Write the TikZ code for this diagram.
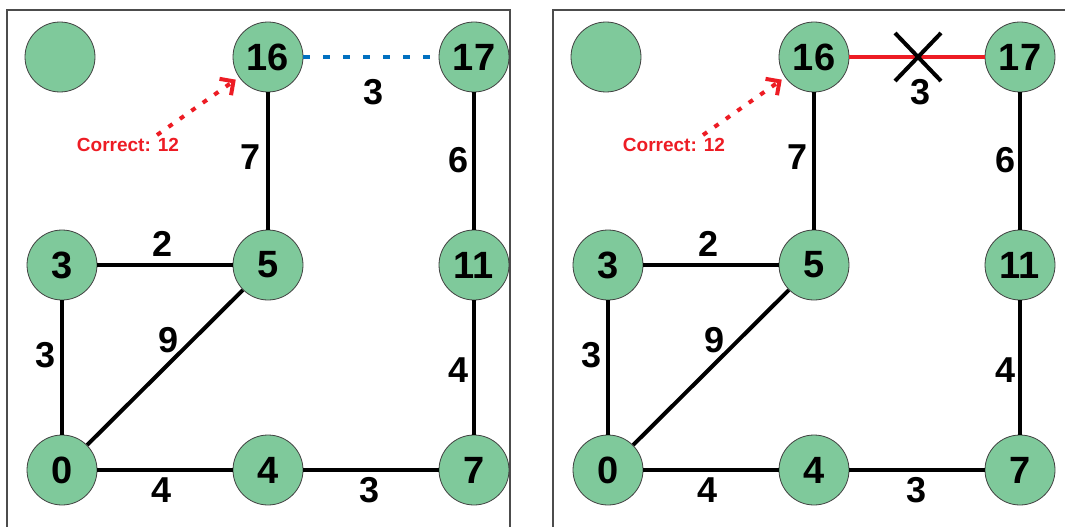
\documentclass[tikz,border=0pt]{standalone}
\usepackage{fontspec}
\setmainfont{Liberation Sans}
\usetikzlibrary{arrows.meta}

\definecolor{vgreen}{RGB}{127,201,155}
\definecolor{vblue}{RGB}{0,112,192}
\definecolor{vred}{RGB}{237,28,36}

\begin{document}
\begin{tikzpicture}[x=1pt, y=-1pt,
  vertex/.style = {circle, draw=black!75, line width=0.8pt, fill=vgreen,
    minimum size=70pt, inner sep=0pt,
    font=\fontsize{38}{38}\selectfont\bfseries},
  edge/.style = {line width=4pt},
  wt/.style = {inner sep=0pt, font=\fontsize{36}{36}\selectfont\bfseries},
  note/.style = {inner sep=0pt, text=vred, font=\fontsize{19}{19}\selectfont\bfseries},
  hint/.style = {vred, line width=4pt, dash pattern=on 5pt off 9pt,
    -{Straight Barb[length=10pt,width=20pt]}, shorten >=4pt},
  panel/.style = {draw=black!70, line width=1.6pt}]
  \clip (0,0) rectangle (1065,527);

  \draw[panel] (7,10) rectangle (510,560);
  \draw[panel] (553,10) rectangle (1090,560);

  % same graph twice, left and right
  \foreach \p/\dx in {L/0,R/546}{
  \begin{scope}[xshift=\dx]
    \node[vertex] (\p e)  at (60,57)   {};
    \node[vertex] (\p16) at (268,57)  {16};
    \node[vertex] (\p17) at (474,57)  {17};
    \node[vertex] (\p3)  at (62,265)  {3};
    \node[vertex] (\p5)  at (268,265) {5};
    \node[vertex] (\p11) at (474,265) {11};
    \node[vertex] (\p0)  at (62,470)  {0};
    \node[vertex] (\p4)  at (268,470) {4};
    \node[vertex] (\p7)  at (474,470) {7};

    \draw[edge] (\p16) -- (\p5);
    \draw[edge] (\p17) -- (\p11);
    \draw[edge] (\p3) -- (\p5);
    \draw[edge] (\p3) -- (\p0);
    \draw[edge] (\p0) -- (\p5);
    \draw[edge] (\p11) -- (\p7);
    \draw[edge] (\p0) -- (\p4);
    \draw[edge] (\p4) -- (\p7);

    \node[wt] (\p w16) at (374,92)  {3};
    \node[wt] (\p w7)  at (251,157) {7};
    \node[wt] (\p w6)  at (459,160) {6};
    \node[wt] (\p w2)  at (163,244) {2};
    \node[wt] (\p w3)  at (46,355)  {3};
    \node[wt] (\p w9)  at (169,340) {9};
    \node[wt] (\p w4)  at (459,370) {4};
    \node[wt] (\p w04) at (162,490) {4};
    \node[wt] (\p w47) at (370,490) {3};

    \node[note] (\p cor) at (128,145) {Correct: 12};
    \coordinate (\p from) at (157,135);
    \draw[hint] (\p from) -- (\p16);
  \end{scope}
  }

  % left: candidate edge, dotted
  \draw[vblue, line width=4pt, dash pattern=on 7pt off 13pt] (L16) -- (L17);

  % right: edge taken and struck out
  \draw[vred, line width=3.5pt] (R16) -- (R17);
  \coordinate (cross) at (918,57);
  \draw[line width=4pt] ([shift={(-23,-24)}]cross) -- ([shift={(23,24)}]cross);
  \draw[line width=4pt] ([shift={(23,-24)}]cross) -- ([shift={(-23,24)}]cross);
\end{tikzpicture}
\end{document}
